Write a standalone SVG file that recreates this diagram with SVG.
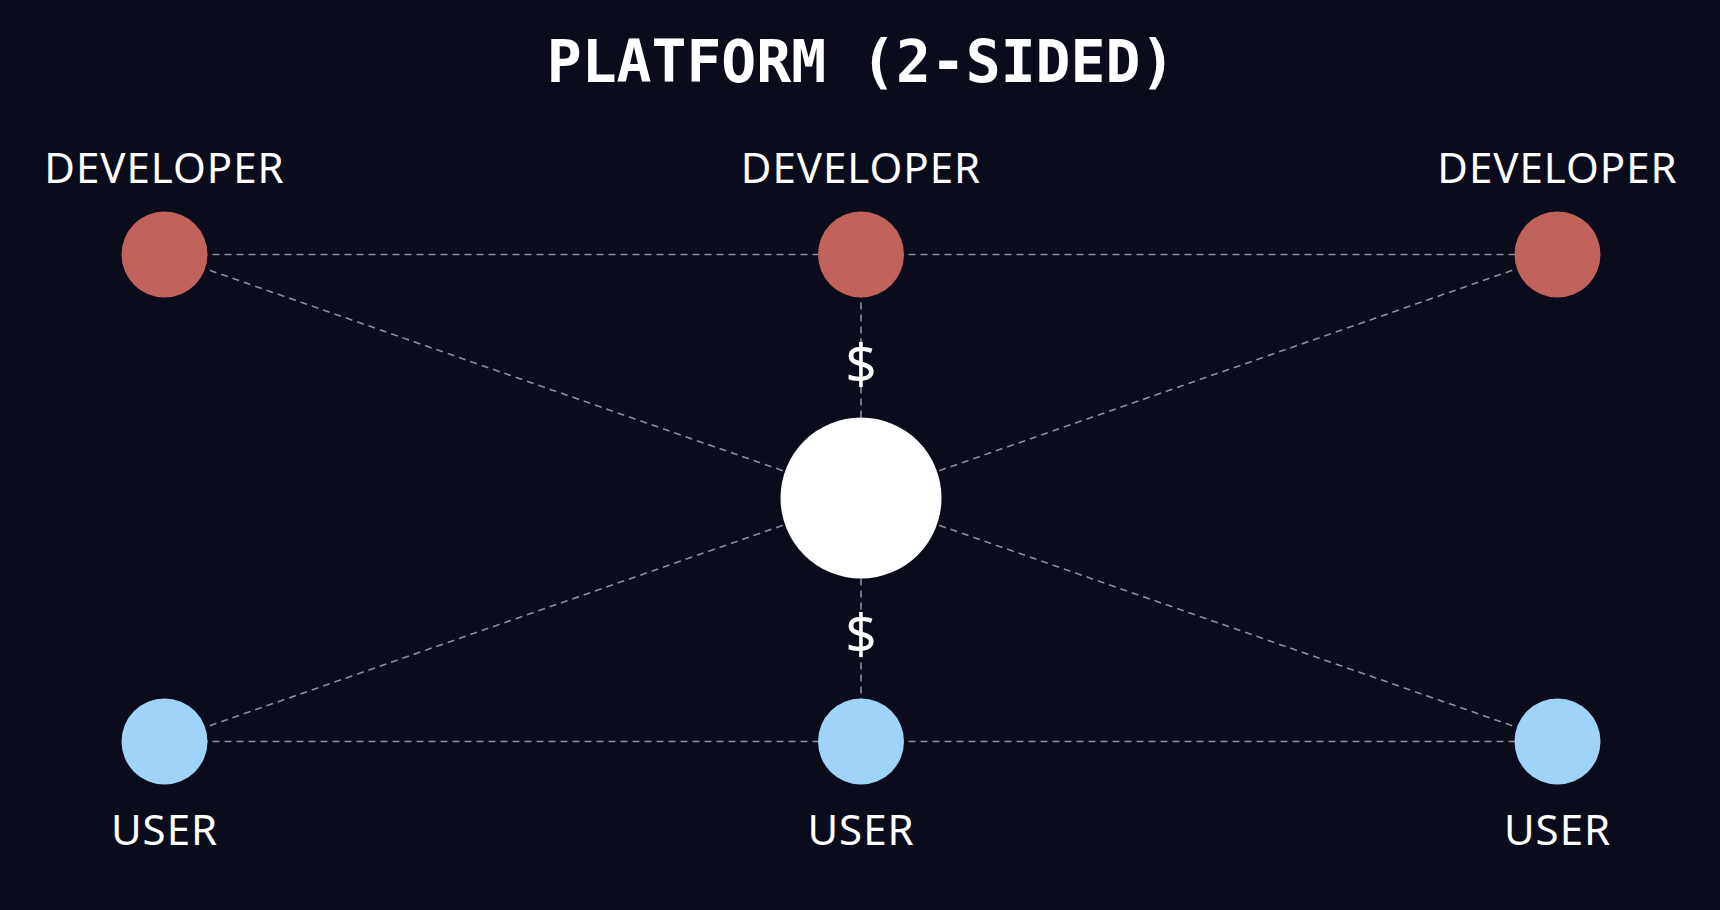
<svg xmlns="http://www.w3.org/2000/svg" width="1720" height="910" viewBox="0 0 1720 910">
<style>
.bg{fill:#0a0c1c}
.link{stroke:#8c8e9c;stroke-width:1.6;stroke-dasharray:7 5;fill:none}
.dev{fill:#c1625b}
.user{fill:#9fd3f9}
.hub{fill:#ffffff}
.title{font-family:"DejaVu Sans Mono","Liberation Mono",monospace;font-weight:700;font-size:58px;fill:#ffffff;text-anchor:middle}
.lbl{font-family:"Noto Sans","Liberation Sans",sans-serif;font-size:42px;letter-spacing:1px;fill:#ffffff;text-anchor:middle}
.money{font-family:"Noto Sans","Liberation Sans",sans-serif;font-size:55px;fill:#ffffff;text-anchor:middle}
</style>
<rect class="bg" x="0" y="0" width="1720" height="910"/>
<text class="title" x="861" y="82">PLATFORM (2-SIDED)</text>
<g id="connectors">
<line class="link" x1="164.5" y1="254.5" x2="1557.5" y2="254.5"/>
<line class="link" x1="164.5" y1="741.5" x2="1557.5" y2="741.5"/>
<line class="link" x1="861" y1="254.5" x2="861" y2="741.5"/>
<line class="link" x1="164.5" y1="254.5" x2="861" y2="498"/>
<line class="link" x1="1557.5" y1="254.5" x2="861" y2="498"/>
<line class="link" x1="164.5" y1="741.5" x2="861" y2="498"/>
<line class="link" x1="1557.5" y1="741.5" x2="861" y2="498"/>
<text class="money" x="861" y="384">$</text>
<text class="money" x="861" y="654">$</text>
</g>
<g id="hub"><circle class="hub" cx="861" cy="498" r="80.5"/></g>
<g id="dev-left"><circle class="dev" cx="164.5" cy="254.5" r="43"/><text class="lbl" x="164.5" y="183">DEVELOPER</text></g>
<g id="dev-mid"><circle class="dev" cx="861" cy="254.5" r="43"/><text class="lbl" x="861" y="183">DEVELOPER</text></g>
<g id="dev-right"><circle class="dev" cx="1557.5" cy="254.5" r="43"/><text class="lbl" x="1557.5" y="183">DEVELOPER</text></g>
<g id="user-left"><circle class="user" cx="164.5" cy="741.5" r="43"/><text class="lbl" x="164.5" y="845">USER</text></g>
<g id="user-mid"><circle class="user" cx="861" cy="741.5" r="43"/><text class="lbl" x="861" y="845">USER</text></g>
<g id="user-right"><circle class="user" cx="1557.5" cy="741.5" r="43"/><text class="lbl" x="1557.5" y="845">USER</text></g>
</svg>
